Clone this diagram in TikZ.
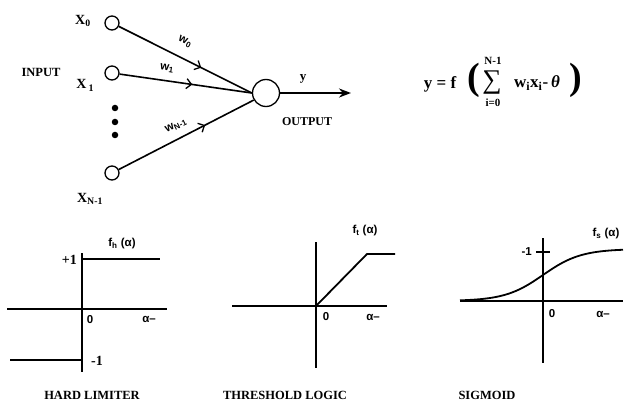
\documentclass[tikz,border=0pt]{standalone}
\usepackage{fontspec}
\setmainfont{Liberation Serif}
\newfontfamily\lsans{Liberation Sans}
\usetikzlibrary{arrows.meta,decorations.markings}
\begin{document}
\begin{tikzpicture}[x=1pt,y=1pt,
  ln/.style={line width=1.8pt},
  inc/.style={circle,draw,line width=1.3pt,minimum size=14pt,inner sep=0pt},
  dotn/.style={circle,fill,minimum size=6.5pt,inner sep=0pt},
  lbl/.style={font=\bfseries\fontsize{14}{14}\selectfont, inner sep=0pt},
  captxt/.style={font=\bfseries\fontsize{12.5}{12.5}\selectfont, inner sep=0pt},
  sm/.style={font=\lsans\bfseries\fontsize{11.5}{11.5}\selectfont, inner sep=0pt},
  gl/.style={font=\lsans\bfseries\fontsize{11.5}{11.5}\selectfont, inner sep=0pt},
  wire/.style={line width=1.6pt, postaction={decorate},
    decoration={markings, mark=at position #1 with {\arrow{Straight Barb[length=5pt,width=10pt,line width=1.3pt]}}}},
]
\useasboundingbox (0,0) rectangle (624,405);

% ---------- neuron ----------
\node[inc] (x0) at (112,382) {};
\node[inc] (x1) at (112,332) {};
\node[inc] (xn) at (112,232) {};
\node[dotn] (d1) at (115,297) {};
\node[dotn] (d2) at (115,283) {};
\node[dotn] (d3) at (115,270) {};
\node[circle,draw,line width=1.3pt,minimum size=27pt,inner sep=0pt] (n) at (266,312) {};
\coordinate (out) at (351,312);

\node[lbl] (lx0) at (83,384) {X\textsubscript{0}};
\node[lbl] (lx1) at (85,320) {X\,\raisebox{-3pt}{\fontsize{10}{10}\selectfont 1}};
\node[lbl] (lxn) at (90,206) {X\textsubscript{N-1}};
\node[font=\bfseries\fontsize{12.5}{12.5}\selectfont, inner sep=0pt] (inp) at (41,333) {INPUT};

\draw[wire=0.62] (x0) -- (n.west);
\draw[wire=0.55] (x1) -- (n.west);
\draw[wire=0.64] (xn) -- (n.210);
\draw[line width=2.2pt, -{Stealth[length=12pt,width=9pt]}] (n) -- (out);

\node[sm, rotate=-26] (w0) at (185,363) {w\textsubscript{0}};
\node[sm, rotate=-9] (w1) at (167,337) {w\textsubscript{1}};
\node[sm, rotate=26] (wn) at (176,279) {w\textsubscript{N-1}};
\node[font=\bfseries\fontsize{13}{13}\selectfont, inner sep=0pt] (ylab) at (303,326) {y};
\node[font=\bfseries\fontsize{12}{12}\selectfont, inner sep=0pt] (outl) at (307,283) {OUTPUT};

% ---------- formula ----------
\node[font=\bfseries\fontsize{17}{17}\selectfont, inner sep=0pt] (fy) at (440,321) {y = f};
\node[font=\bfseries\fontsize{38}{38}\selectfont, inner sep=0pt] (lp) at (474,325) {(};
\node[font=\fontsize{27}{27}\selectfont, inner sep=0pt] (sig) at (492,322) {∑};
\node[font=\bfseries\fontsize{11}{11}\selectfont, inner sep=0pt] (sup) at (493,344) {N-1};
\node[font=\bfseries\fontsize{11}{11}\selectfont, inner sep=0pt] (sub) at (493,302) {i=0};
\node[font=\bfseries\fontsize{17}{17}\selectfont, inner sep=0pt] (wx) at (537,322) {w\textsubscript{i}x\textsubscript{i}-\,\textit{θ}};
\node[font=\bfseries\fontsize{38}{38}\selectfont, inner sep=0pt] (rp) at (576,325) {)};

% ---------- hard limiter ----------
\coordinate (ha1) at (82,152); \coordinate (ha2) at (82,33);
\coordinate (hh1) at (7,96); \coordinate (hh2) at (167,96);
\coordinate (hp1) at (82,146); \coordinate (hp2) at (160,146);
\coordinate (hm1) at (10,45); \coordinate (hm2) at (82,45);
\draw[ln] (ha1) -- (ha2);
\draw[ln] (hh1) -- (hh2);
\draw[ln] (hp1) -- (hp2);
\draw[ln] (hm1) -- (hm2);
\node[lbl, anchor=east] (hp) at (77,145) {+1};
\node[lbl, anchor=west] (hm) at (91,44) {-1};
\node[gl] (h0) at (90,85) {0};
\node[gl] (ha) at (149,86) {α\textendash};
\node[gl] (hf) at (122,161) {f\textsubscript{h} (α)};
\node[captxt] (c1) at (92,10) {HARD LIMITER};

% ---------- threshold logic ----------
\coordinate (ta1) at (316,163); \coordinate (ta2) at (316,37);
\coordinate (th1) at (232,99); \coordinate (th2) at (387,99);
\coordinate (tr0) at (316,99); \coordinate (tr1) at (367,151); \coordinate (tr2) at (395,151);
\draw[ln] (ta1) -- (ta2);
\draw[ln] (th1) -- (th2);
\draw[ln, line join=round] (tr0) -- (tr1) -- (tr2);
\node[gl] (t0) at (326,88) {0};
\node[gl] (ta) at (373,88) {α\textendash};
\node[gl] (tf) at (365,174) {f\textsubscript{t} (α)};
\node[captxt] (c2) at (285,10) {THRESHOLD LOGIC};

% ---------- sigmoid ----------
\coordinate (sa1) at (543,167); \coordinate (sa2) at (543,42);
\coordinate (sh1) at (460,104); \coordinate (sh2) at (623,104);
\coordinate (st1) at (536,153); \coordinate (st2) at (550,153);
\draw[ln] (sa1) -- (sa2);
\draw[ln] (sh1) -- (sh2);
\draw[ln] (st1) -- (st2);
\draw[ln] plot[domain=460:623, samples=90, smooth] (\x, {104+52/(1+exp(-(\x-543)/19))});
\node[gl, anchor=east] (sm1) at (532,153) {-1};
\node[gl] (s0) at (552,91) {0};
\node[gl] (sa) at (603,91) {α\textendash};
\node[gl] (sf) at (606,171) {f\textsubscript{s} (α)};
\node[captxt] (c3) at (487,10) {SIGMOID};
\end{tikzpicture}
\end{document}
